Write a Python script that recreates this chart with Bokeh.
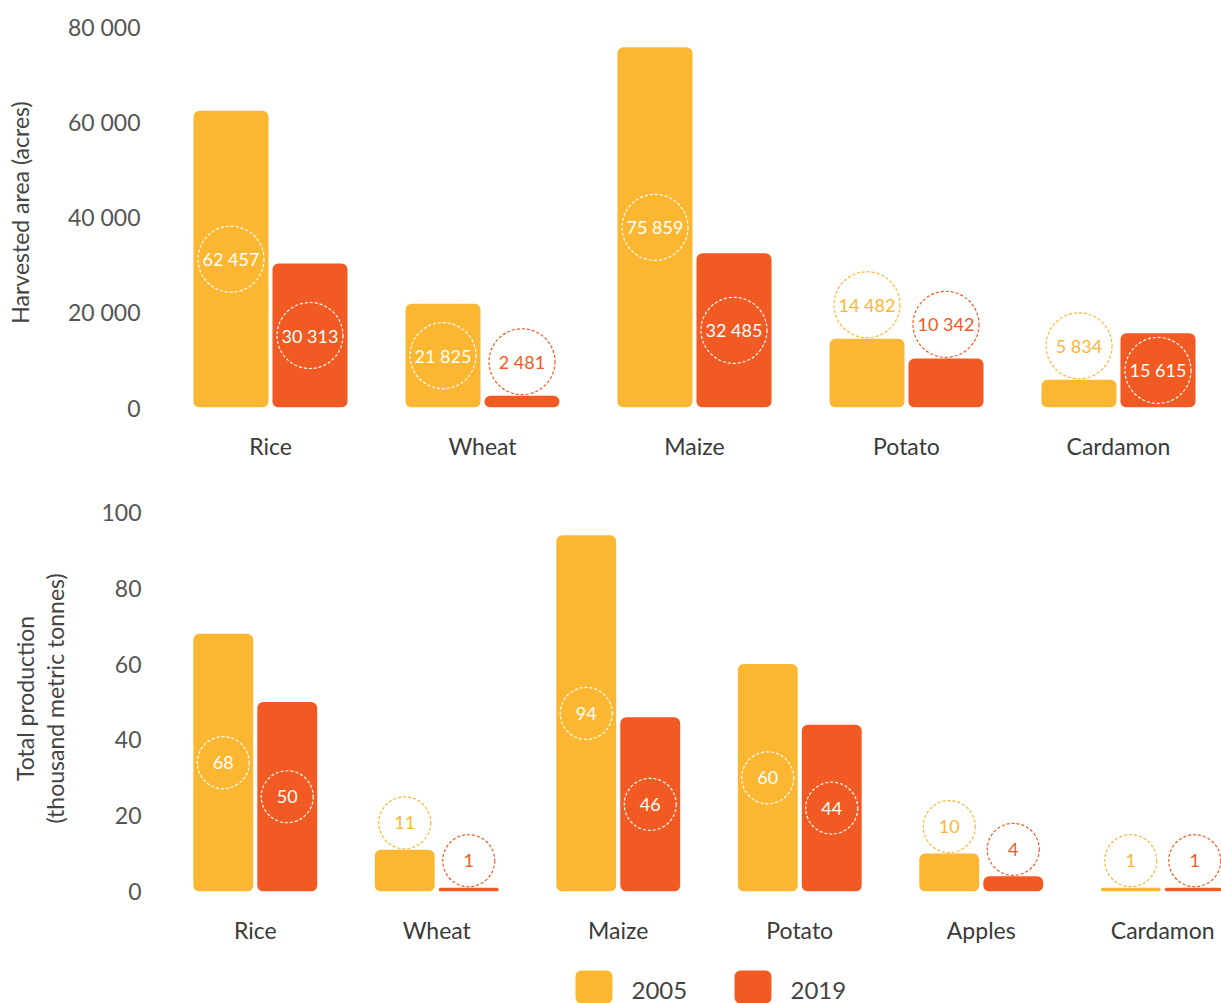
from bokeh.plotting import figure
from bokeh.layouts import column
from bokeh.models import Range1d, FixedTicker, ColumnDataSource
from bokeh.core.properties import value
from bokeh.embed import file_html
from bokeh.resources import INLINE

# ---------------- data ----------------
area_crops = ["Rice", "Wheat", "Maize", "Potato", "Cardamon"]
area_2005 = [62457, 21825, 75859, 14482, 5834]
area_2019 = [30313, 2481, 32485, 10342, 15615]
area_ticks = [0, 20000, 40000, 60000, 80000]
area_tick_labels = ["0", "20 000", "40 000", "60 000", "80 000"]

prod_crops = ["Rice", "Wheat", "Maize", "Potato", "Apples", "Cardamon"]
prod_2005 = [68, 11, 94, 60, 10, 1]
prod_2019 = [50, 1, 46, 44, 4, 1]
prod_ticks = [0, 20, 40, 60, 80, 100]
prod_tick_labels = ["0", "20", "40", "60", "80", "100"]

years = ["2005", "2019"]

YELLOW = "#FCB732"
ORANGE = "#F15A22"
TICK_COLOR = "#555555"
CAT_COLOR = "#3a3a3a"
FONT = "Lato"
W = 1221
LEFT = 164


def fmt(v):
    return f"{v:,}".replace(",", " ")


def make_chart(crops, s05, s19, ticks, tick_labels, ylabel, fig_h, b_top,
               b_bottom, y_end, unit_px, bar_w, offset, radius, label_standoff,
               tick_standoff, cat_standoff):
    frame_h = fig_h - b_top - b_bottom
    ppu = frame_h / y_end  # pixels per data unit
    frame_w = W - LEFT
    x_end = frame_w / unit_px - 0.5
    p = figure(width=W, height=fig_h, output_backend="svg", toolbar_location=None,
               x_range=Range1d(-0.5, x_end), y_range=Range1d(0, y_end),
               min_border_left=LEFT, min_border_right=0, min_border_top=b_top,
               min_border_bottom=b_bottom)
    p.outline_line_color = None
    p.grid.visible = False
    p.background_fill_color = "white"
    p.border_fill_color = "white"

    n = len(crops)
    for series, color, sgn in ((s05, YELLOW, -1), (s19, ORANGE, 1)):
        xs = [i + sgn * offset for i in range(n)]
        src = ColumnDataSource(dict(x=xs, top=series))
        p.vbar(x="x", top="top", bottom=0, width=bar_w, source=src,
               fill_color=color, line_color=None, border_radius=6)
        cy, tc = [], []
        for v in series:
            if v * ppu > 2 * radius + 4:
                cy.append(v / 2)
                tc.append("white")
            else:
                cy.append(v + (radius + 1) / ppu)
                tc.append(color)
        lsrc = ColumnDataSource(dict(x=xs, y=cy, c=tc, t=[fmt(v) for v in series]))
        p.scatter(x="x", y="y", source=lsrc, marker="circle", size=2 * radius,
                  fill_color=None, line_color="c", line_dash="3 2", line_width=1.2)
        p.text(x="x", y="y", text="t", source=lsrc, text_color="c",
               text_align="center", text_baseline="middle",
               text_font=value(FONT), text_font_size="18px")

    p.xaxis.ticker = FixedTicker(ticks=list(range(n)))
    p.xaxis.major_label_overrides = {i: c for i, c in enumerate(crops)}
    p.yaxis.ticker = FixedTicker(ticks=ticks)
    p.yaxis.major_label_overrides = {t: l for t, l in zip(ticks, tick_labels)}
    for ax in (p.xaxis[0], p.yaxis[0]):
        ax.axis_line_color = None
        ax.major_tick_line_color = None
        ax.minor_tick_line_color = None
        ax.major_tick_out = 0
        ax.major_label_text_font = FONT
    p.xaxis.major_label_text_font_size = "23px"
    p.xaxis.major_label_text_color = CAT_COLOR
    p.xaxis.major_label_standoff = cat_standoff
    p.yaxis.major_label_text_font_size = "23px"
    p.yaxis.major_label_text_color = TICK_COLOR
    p.yaxis.major_label_standoff = tick_standoff
    p.yaxis.axis_label = ylabel
    p.yaxis.axis_label_text_font = FONT
    p.yaxis.axis_label_text_font_style = "normal"
    p.yaxis.axis_label_text_font_size = "23px"
    p.yaxis.axis_label_text_line_height = 1.1
    p.yaxis.axis_label_text_color = "#444444"
    p.yaxis.axis_label_standoff = label_standoff
    return p


p1 = make_chart(area_crops, area_2005, area_2019, area_ticks, area_tick_labels,
                "Harvested area (acres)", 470, 17, 63, 82105, 212.0,
                0.354, 0.1863, 33, 31, 24, 24)
p2 = make_chart(prod_crops, prod_2005, prod_2019, prod_ticks, prod_tick_labels,
                "Total production\n(thousand metric tonnes)", 480, 35, 59, 101.85,
                181.5, 0.33, 0.1763, 26, 29, 23, 24)

# legend strip (x in window pixels)
lg = figure(width=W, height=53, output_backend="svg", toolbar_location=None,
            x_range=Range1d(LEFT, W), y_range=Range1d(0, 53),
            min_border_left=LEFT, min_border_right=0, min_border_top=0,
            min_border_bottom=0)
lg.outline_line_color = None
lg.grid.visible = False
lg.axis.visible = False
leg_src = ColumnDataSource(dict(x=[593.5, 752.5], c=[YELLOW, ORANGE],
                                tx=[631, 790], t=years))
lg.vbar(x="x", top=33, bottom=-4, width=37, fill_color="c", line_color=None,
        border_radius=6, source=leg_src)
lg.text(x="tx", y=13, text="t", source=leg_src, text_color="#444444",
        text_align="left", text_baseline="middle", text_font=value(FONT),
        text_font_size="24px")

layout = column(p1, p2, lg, spacing=0)
open("out.html", "w").write(file_html(layout, INLINE))
